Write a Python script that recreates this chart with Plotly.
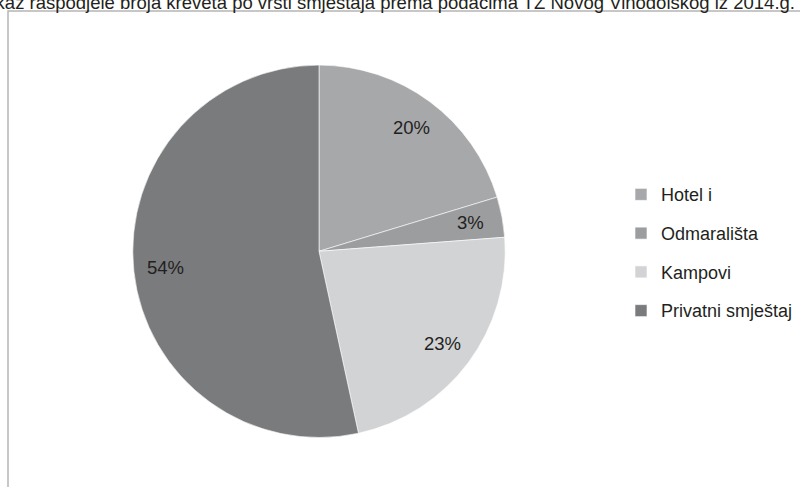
import math
import plotly.graph_objects as go

categories = ["Hotel i", "Odmarališta", "Kampovi", "Privatni smještaj"]
values = [20.3, 3.5, 22.8, 53.4]
pct_labels = ["20%", "3%", "23%", "54%"]
colors = ["#a7a8aa", "#9c9d9f", "#d2d3d5", "#7a7b7d"]
title_text = "Prikaz raspodjele broja kreveta po vrsti smještaja prema podacima TZ Novog Vinodolskog iz 2014.g."

W, H = 800, 487
cx, cy, R = 319, 251.3, 186.2

FONT = "Liberation Sans, Arial, sans-serif"
TXT = "#231f20"

fig = go.Figure()
fig.add_trace(go.Pie(
    labels=[f"<span style='font-size:18px;baseline-shift:4px'>{c}</span>" for c in categories],
    values=values,
    sort=False,
    direction="clockwise",
    rotation=0,
    marker=dict(colors=colors, line=dict(color="white", width=0.6)),
    textinfo="none",
    hoverinfo="label+percent",
    domain=dict(x=[(cx - R) / W, (cx + R) / W],
                y=[(H - cy - R) / H, (H - cy + R) / H]),
))

# percentage labels placed at the mid-angle of each slice
total = sum(values)
cum = 0.0
annotations = []
for v, t in zip(values, pct_labels):
    mid = (cum + v / 2) / total * 2 * math.pi
    cum += v
    r = 0.83 * R
    px = cx + r * math.sin(mid)
    py = cy - r * math.cos(mid)
    annotations.append(dict(x=px / W, y=1 - py / H, xref="paper", yref="paper",
                            xanchor="center", yanchor="middle",
                            text=t, showarrow=False,
                            font=dict(family=FONT, size=18.5, color=TXT)))

annotations.append(dict(x=797 / W, y=1 - 15.5 / H, xref="paper", yref="paper",
                        xanchor="right", yanchor="bottom", text=title_text,
                        showarrow=False, font=dict(family=FONT, size=18.5, color=TXT)))

fig.update_layout(
    width=W, height=H,
    margin=dict(l=0, r=0, t=0, b=0),
    paper_bgcolor="white", plot_bgcolor="white",
    font=dict(family=FONT, color=TXT),
    annotations=annotations,
    showlegend=True,
    legend=dict(x=621 / W, y=1 - 170 / H, xanchor="left", yanchor="top",
                font=dict(family=FONT, size=27.5, color=TXT),
                bgcolor="rgba(0,0,0,0)"),
    shapes=[dict(type="rect", xref="paper", yref="paper",
                 x0=8 / W, x1=1.05, y0=-0.05, y1=1 - 11 / H,
                 line=dict(color="#b5b5b5", width=1.5), fillcolor="rgba(0,0,0,0)",
                 layer="below")],
)

fig.write_html("out.html", config={"displayModeBar": False},
               post_script="document.body.style.margin='0';")
